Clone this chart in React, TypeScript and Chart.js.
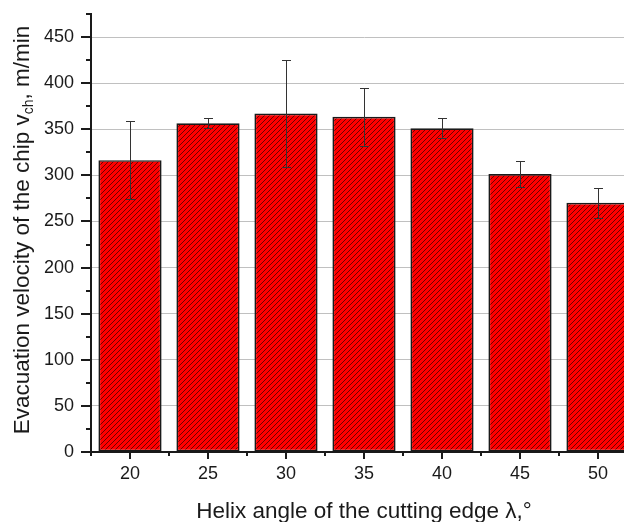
import React, { useEffect, useRef } from "react";
import { Chart, registerables } from "chart.js";

Chart.register(...registerables);

// ---- data ----
const helixAngles = [20, 25, 30, 35, 40, 45, 50];
const velocity = [316.5, 356.5, 367, 363.5, 351, 301.5, 270.3];
const velocityError = [42, 5.5, 57.7, 31.5, 10.8, 14.5, 16];
const xTickValues = [20, 25, 30, 35, 40, 45, 50];
const yTickLabels = [0, 50, 100, 150, 200, 250, 300, 350, 400, 450];

const X_MIN = 17.5;
const X_MAX = 52.5;
const Y_MIN = 0;
const Y_MAX = 475;

const FONT = '"Liberation Sans", Arial, Helvetica, sans-serif';
const AXIS_COLOR = "#1a1a1a";

function makeHatch(): CanvasPattern | string {
  const s = 5;
  const c = document.createElement("canvas");
  c.width = s;
  c.height = s;
  const g = c.getContext("2d");
  if (!g) return "#ff0000";
  g.fillStyle = "#ff0000";
  g.fillRect(0, 0, s, s);
  g.strokeStyle = "rgba(40,0,0,0.85)";
  g.lineWidth = 0.8;
  g.beginPath();
  g.moveTo(0, s);
  g.lineTo(s, 0);
  g.moveTo(-1, 1);
  g.lineTo(1, -1);
  g.moveTo(s - 1, s + 1);
  g.lineTo(s + 1, s - 1);
  g.stroke();
  const p = g.createPattern(c, "repeat");
  return p || "#ff0000";
}

const errorBarPlugin = {
  id: "errorBars",
  afterDatasetsDraw(chart: any) {
    const { ctx, scales } = chart;
    const xs = scales.x;
    const ys = scales.y;
    ctx.save();
    ctx.strokeStyle = "#333333";
    ctx.lineWidth = 1;
    const cap = 4.5;
    helixAngles.forEach((a, i) => {
      const x = Math.round(xs.getPixelForValue(a)) + 0.5;
      const yTop = Math.round(ys.getPixelForValue(velocity[i] + velocityError[i])) + 0.5;
      const yBot = Math.round(ys.getPixelForValue(velocity[i] - velocityError[i])) + 0.5;
      ctx.beginPath();
      ctx.moveTo(x, yTop);
      ctx.lineTo(x, yBot);
      ctx.moveTo(x - cap, yTop);
      ctx.lineTo(x + cap, yTop);
      ctx.moveTo(x - cap, yBot);
      ctx.lineTo(x + cap, yBot);
      ctx.stroke();
    });
    ctx.restore();
  },
};

const axisDecorPlugin = {
  id: "axisDecor",
  afterDraw(chart: any) {
    const { ctx, scales, chartArea } = chart;
    const xs = scales.x;
    const ys = scales.y;
    ctx.save();
    ctx.strokeStyle = AXIS_COLOR;
    // y ticks (major every 50, minor every 25), pointing outward
    for (let v = Y_MIN; v <= Y_MAX; v += 25) {
      const major = v % 50 === 0;
      const len = major ? 10 : 5;
      const y = Math.round(ys.getPixelForValue(v));
      ctx.lineWidth = 2;
      ctx.beginPath();
      ctx.moveTo(chartArea.left - len, y);
      ctx.lineTo(chartArea.left, y);
      ctx.stroke();
    }
    // x ticks (major every 5, minor every 2.5), pointing down
    for (let v = X_MIN; v <= X_MAX + 1e-6; v += 2.5) {
      const major = Math.abs(v % 5) < 1e-6;
      const len = major ? 7 : 4;
      const x = Math.round(xs.getPixelForValue(v));
      ctx.lineWidth = 2;
      ctx.beginPath();
      ctx.moveTo(x, chartArea.bottom);
      ctx.lineTo(x, chartArea.bottom + len);
      ctx.stroke();
    }

    // x axis title
    ctx.fillStyle = AXIS_COLOR;
    ctx.font = `22.5px ${FONT}`;
    ctx.textAlign = "center";
    ctx.textBaseline = "alphabetic";
    ctx.fillText(
      "Helix angle of the cutting edge λ,°",
      (chartArea.left + chartArea.right) / 2,
      518
    );

    // y axis title with subscript
    const p1 = "Evacuation velocity of the chip v";
    const sub = "ch";
    const p3 = ", m/min";
    const mainFont = `22.5px ${FONT}`;
    const subFont = `14px ${FONT}`;
    ctx.font = mainFont;
    const w1 = ctx.measureText(p1).width;
    const w3 = ctx.measureText(p3).width;
    ctx.font = subFont;
    const w2 = ctx.measureText(sub).width;
    const total = w1 + w2 + w3;
    ctx.translate(29, (chartArea.top + chartArea.bottom) / 2 - 3);
    ctx.rotate(-Math.PI / 2);
    ctx.textAlign = "left";
    let x0 = -total / 2;
    ctx.font = mainFont;
    ctx.fillText(p1, x0, 0);
    x0 += w1;
    ctx.font = subFont;
    ctx.fillText(sub, x0, 4);
    x0 += w2;
    ctx.font = mainFont;
    ctx.fillText(p3, x0, 0);
    ctx.restore();
  },
};

export default function App() {
  const ref = useRef<HTMLCanvasElement | null>(null);

  useEffect(() => {
    if (!ref.current) return;
    const hatch = makeHatch();
    const chart = new Chart(ref.current, {
      type: "bar",
      data: {
        datasets: [
          {
            label: "Evacuation velocity",
            data: helixAngles.map((a, i) => ({ x: a, y: velocity[i] })),
            backgroundColor: hatch as any,
            borderColor: AXIS_COLOR,
            borderWidth: 1.7,
            borderSkipped: false,
            barPercentage: 0.81,
            categoryPercentage: 1,
          },
        ],
      },
      options: {
        responsive: false,
        maintainAspectRatio: false,
        animation: false,
        devicePixelRatio: 1,
        layout: { padding: { top: 14, right: 23, bottom: 0, left: 0 } },
        plugins: {
          legend: { display: false },
          tooltip: { enabled: false },
          title: { display: false },
        },
        scales: {
          x: {
            type: "linear",
            min: X_MIN,
            max: X_MAX,
            offset: false,
            afterBuildTicks: (scale: any) => {
              scale.ticks = xTickValues.map((v) => ({ value: v }));
            },
            afterFit: (scale: any) => {
              scale.height = 70;
              scale.paddingLeft = 0;
              scale.paddingRight = 0;
            },
            grid: { display: false, drawTicks: false },
            border: { display: true, color: AXIS_COLOR, width: 2 },
            ticks: {
              autoSkip: false,
              maxRotation: 0,
              padding: 11,
              color: AXIS_COLOR,
              font: { family: FONT, size: 18 },
              callback: (v: any) => String(v),
            },
          },
          y: {
            type: "linear",
            min: Y_MIN,
            max: Y_MAX,
            afterBuildTicks: (scale: any) => {
              const t: any[] = [];
              for (let v = Y_MIN; v <= Y_MAX; v += 25) t.push({ value: v });
              scale.ticks = t;
            },
            afterFit: (scale: any) => {
              scale.width = 91;
              scale.paddingTop = 0;
              scale.paddingBottom = 0;
            },
            grid: {
              drawTicks: false,
              lineWidth: 1,
              color: (ctx: any) => {
                const v = ctx.tick ? ctx.tick.value : 0;
                if (v === Y_MAX || v === 0) return "rgba(0,0,0,0)";
                return v % 50 === 0 ? "#c0c0c0" : "#d6d6d6";
              },
            },
            border: {
              display: true,
              color: AXIS_COLOR,
              width: 2,
              dash: (ctx: any) =>
                ctx && ctx.tick && ctx.tick.value % 50 !== 0 ? [3, 2] : [],
            } as any,
            ticks: {
              padding: 17,
              color: AXIS_COLOR,
              font: { family: FONT, size: 18 },
              callback: (v: any) =>
                yTickLabels.indexOf(Number(v)) >= 0 ? String(v) : "",
            },
          },
        },
      },
      plugins: [errorBarPlugin, axisDecorPlugin],
    } as any);
    return () => chart.destroy();
  }, []);

  return (
    <div
      style={{
        position: "absolute",
        left: 0,
        top: 0,
        width: 624,
        height: 522,
        overflow: "hidden",
        background: "#ffffff",
      }}
    >
      <canvas
        ref={ref}
        width={660}
        height={522}
        style={{ display: "block", width: 660, height: 522 }}
      />
    </div>
  );
}
